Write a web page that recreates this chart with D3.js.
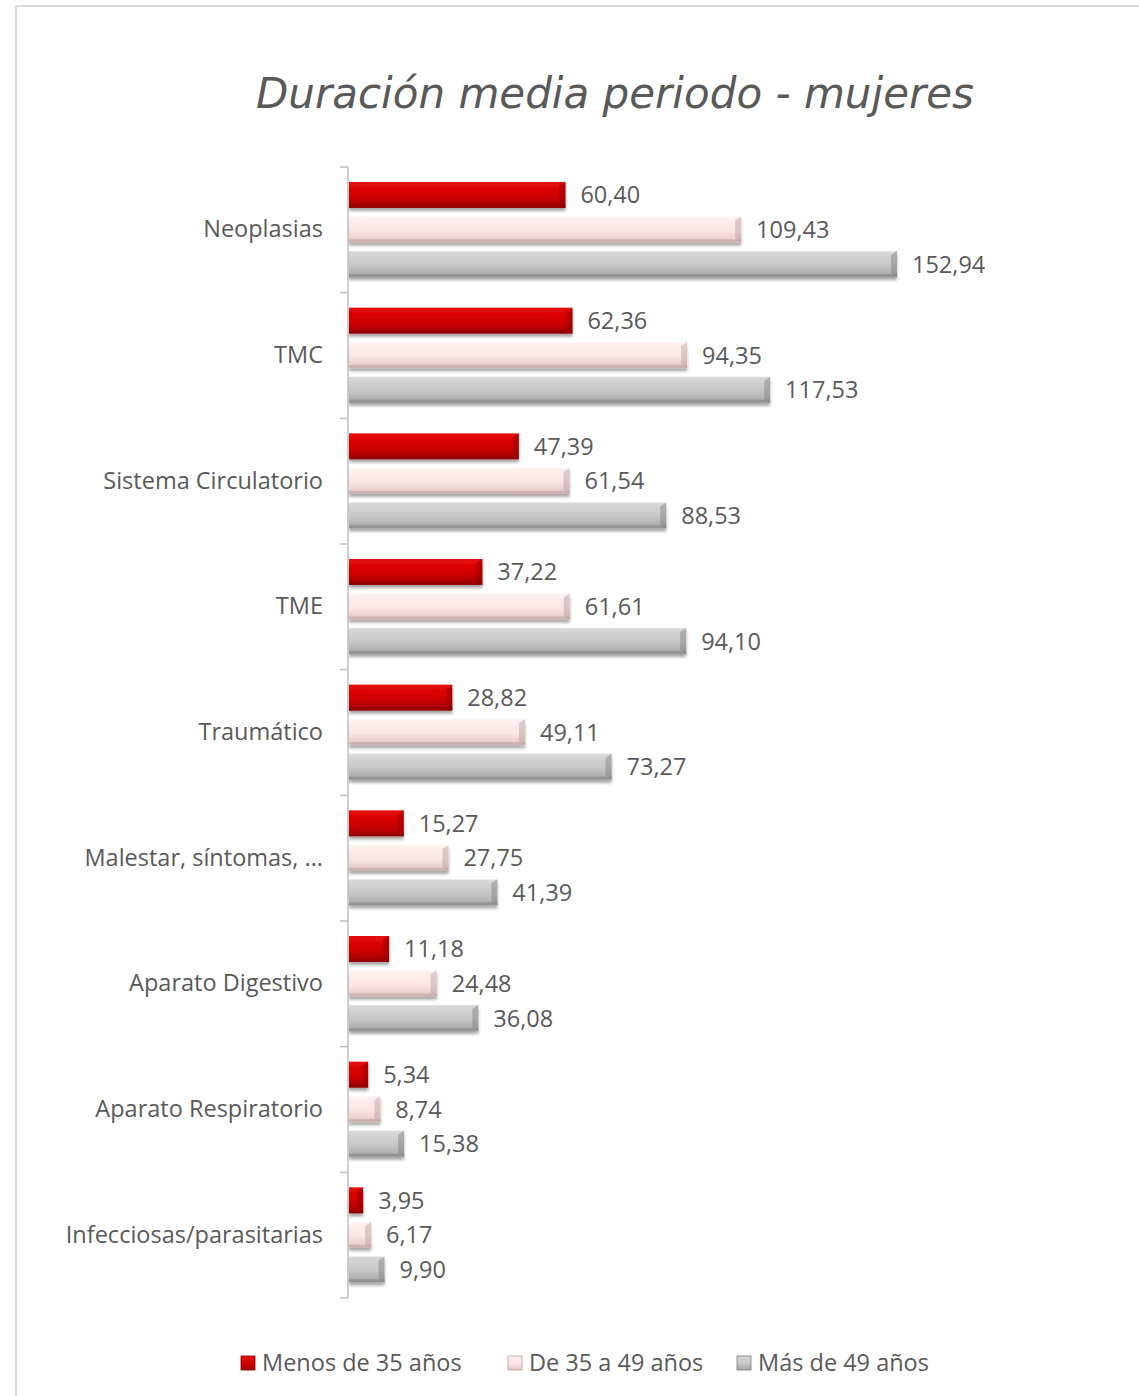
<!DOCTYPE html>
<html>
<head>
<meta charset="utf-8">
<script src="https://cdn.jsdelivr.net/npm/d3@7"></script>
<style>
  body { margin: 0; background: #fff; }
  text { font-family: "Open Sans", "Noto Sans", sans-serif; fill: #595959; }
</style>
</head>
<body>
<svg id="chart" width="1139" height="1396"></svg>
<script>
(function() {
  'use strict';

  var categories = ['Neoplasias', 'TMC', 'Sistema Circulatorio', 'TME', 'Traumático',
    'Malestar, síntomas, ...', 'Aparato Digestivo', 'Aparato Respiratorio', 'Infecciosas/parasitarias'];
  var seriesNames = ['Menos de 35 años', 'De 35 a 49 años', 'Más de 49 años'];
  var menos35 = [60.40, 62.36, 47.39, 37.22, 28.82, 15.27, 11.18, 5.34, 3.95];
  var de35a49 = [109.43, 94.35, 61.54, 61.61, 49.11, 27.75, 24.48, 8.74, 6.17];
  var mas49 = [152.94, 117.53, 88.53, 94.10, 73.27, 41.39, 36.08, 15.38, 9.90];

  var seriesValues = [menos35, de35a49, mas49];
  // gradient stops per series: top, middle, bottom, edge
  var looks = [
    { top: '#e60a0a', mid: '#d00000', bot: '#9c0000', edge: '#8a0000' },
    { top: '#fff2f2', mid: '#fbe4e4', bot: '#e3c5c5', edge: '#b89a9a' },
    { top: '#d9d9d9', mid: '#c6c6c6', bot: '#a3a3a3', edge: '#7f7f7f' }
  ];

  var svg = d3.select('#chart');
  var fmt = function(v) { return d3.format('.2f')(v).replace('.', ','); };

  var defs = svg.append('defs');
  looks.forEach(function(l, i) {
    var g = defs.append('linearGradient')
      .attr('id', 'grad' + i)
      .attr('x1', 0).attr('y1', 0).attr('x2', 0).attr('y2', 1);
    g.append('stop').attr('offset', '0%').attr('stop-color', l.top);
    g.append('stop').attr('offset', '55%').attr('stop-color', l.mid);
    g.append('stop').attr('offset', '100%').attr('stop-color', l.bot);
  });
  var shadow = defs.append('filter').attr('id', 'shadow')
    .attr('x', '-5%').attr('y', '-20%').attr('width', '115%').attr('height', '160%');
  shadow.append('feDropShadow')
    .attr('dx', 0).attr('dy', 3).attr('stdDeviation', 1.5)
    .attr('flood-color', '#000').attr('flood-opacity', 0.35);

  // outer frame
  svg.append('rect')
    .attr('x', 16).attr('y', 6).attr('width', 1140).attr('height', 1400)
    .attr('fill', 'none').attr('stroke', '#d9d9d9').attr('stroke-width', 2);

  svg.append('text')
    .attr('x', 615).attr('y', 108)
    .attr('text-anchor', 'middle')
    .style('font-size', '42px')
    .style('font-style', 'italic')
    .style('font-family', '"Comic Sans MS", "DejaVu Sans", sans-serif')
    .text('Duración media periodo - mujeres');

  var margin = { left: 348, top: 167 };
  var plotH = 1131;

  var x = d3.scaleLinear().domain([0, 152.94]).range([0, 548]);
  var y = d3.scaleBand().domain(categories).range([0, plotH]).paddingInner(0).paddingOuter(0);
  var inner = d3.scaleBand().domain(d3.range(3)).range([15, 110]).paddingInner(0.25);

  var plot = svg.append('g').attr('transform', 'translate(' + margin.left + ',' + margin.top + ')');

  var groups = plot.selectAll('g.cat')
    .data(categories)
    .enter().append('g')
    .attr('class', 'cat')
    .attr('transform', function(d) { return 'translate(0,' + y(d) + ')'; });

  groups.each(function(cat, ci) {
    var g = d3.select(this);
    seriesValues.forEach(function(vals, si) {
      var v = vals[ci];
      var by = inner(si), bh = inner.bandwidth(), bw = x(v);
      var bar = g.append('g').attr('filter', 'url(#shadow)');
      bar.append('rect')
        .attr('x', 1).attr('y', by).attr('width', bw).attr('height', bh)
        .attr('fill', 'url(#grad' + si + ')');
      // bevel at right end
      bar.append('path')
        .attr('d', 'M' + (bw - 5) + ',' + (by + 4) + 'L' + (bw + 1) + ',' + by +
          'L' + (bw + 1) + ',' + (by + bh) + 'L' + (bw - 5) + ',' + (by + bh - 4) + 'Z')
        .attr('fill', looks[si].edge).attr('opacity', 0.45);
      bar.append('rect')
        .attr('x', 1).attr('y', by + bh - 3).attr('width', bw).attr('height', 3)
        .attr('fill', looks[si].edge).attr('opacity', 0.5);
      g.append('text')
        .attr('x', bw + 16).attr('y', by + bh / 2)
        .attr('dy', '0.36em')
        .style('font-size', '23.5px')
        .text(fmt(v));
    });
  });

  // category axis
  var axis = d3.axisLeft(y).tickSize(0).tickPadding(25);
  var ax = plot.append('g').call(axis);
  ax.select('.domain').remove();
  ax.selectAll('text').style('font-size', '23.5px').attr('fill', '#595959');

  plot.append('line')
    .attr('x1', 0).attr('x2', 0).attr('y1', 0).attr('y2', plotH)
    .attr('stroke', '#bfbfbf').attr('stroke-width', 1.5);
  plot.selectAll('line.tick-mark')
    .data(d3.range(categories.length + 1))
    .enter().append('line')
    .attr('class', 'tick-mark')
    .attr('x1', -8).attr('x2', 0)
    .attr('y1', function(i) { return i * y.step(); })
    .attr('y2', function(i) { return i * y.step(); })
    .attr('stroke', '#bfbfbf').attr('stroke-width', 1.5);

  // legend
  var legendX = [241, 508, 737];
  var legend = svg.append('g').attr('transform', 'translate(0,1356)');
  seriesNames.forEach(function(name, i) {
    legend.append('rect')
      .attr('x', legendX[i]).attr('y', 0).attr('width', 14).attr('height', 14)
      .attr('fill', 'url(#grad' + i + ')')
      .attr('stroke', looks[i].edge).attr('stroke-width', 0.8);
    legend.append('text')
      .attr('x', legendX[i] + 21).attr('y', 7)
      .attr('dy', '0.36em')
      .style('font-size', '23.5px')
      .text(name);
  });
}).call(this);
</script>
</body>
</html>
